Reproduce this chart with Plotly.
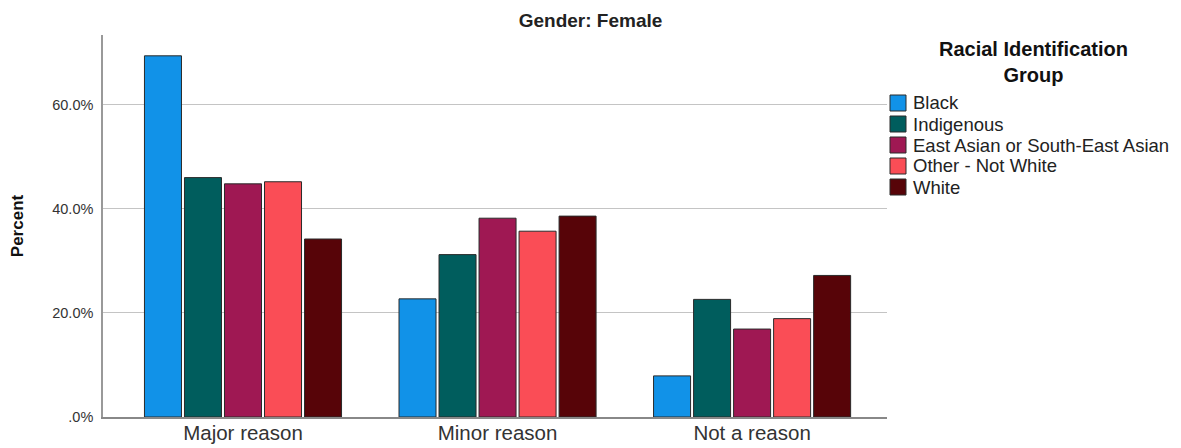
import plotly.graph_objects as go

categories = ["Major reason", "Minor reason", "Not a reason"]
groups = ["Black", "Indigenous", "East Asian or South-East Asian", "Other - Not White", "White"]
black = [69.4, 22.7, 7.9]
indigenous = [46.0, 31.2, 22.6]
east_asian = [44.8, 38.2, 16.9]
other_not_white = [45.2, 35.7, 18.9]
white = [34.2, 38.6, 27.2]
colors = ["#1192E8", "#005D5D", "#9F1853", "#FA4D56", "#570408"]
tick_vals = [0, 20, 40, 60]
tick_text = [".0%", "20.0%", "40.0%", "60.0%"]
legend_title = "Racial Identification<br>Group"

series = [black, indigenous, east_asian, other_not_white, white]
FONT = "Arial, Liberation Sans, sans-serif"

W, H = 1181, 448
ML, MR, MT, MB = 103, 294, 35, 31
PW, PH = W - ML - MR, H - MT - MB


def px_x(p):
    return (p - ML) / PW


def px_y(p):
    return (H - MB - p) / PH


fig = go.Figure()
for name, vals, col in zip(groups, series, colors):
    fig.add_trace(go.Bar(
        x=categories, y=vals, name=name, showlegend=False,
        marker=dict(color=col, line=dict(color="#2a2a2a", width=1)),
    ))

# legend (drawn as layout items so its spacing matches the original)
shapes = []
annotations = []
for i, (name, col) in enumerate(zip(groups, colors)):
    cy = 103 + 21 * i
    shapes.append(dict(type="rect", xref="paper", yref="paper",
                       x0=px_x(890), x1=px_x(906), y0=px_y(cy + 8), y1=px_y(cy - 8),
                       fillcolor=col, line=dict(color="#2a2a2a", width=1)))
    annotations.append(dict(text=name, xref="paper", yref="paper",
                            x=px_x(911), y=px_y(cy), xanchor="left", yanchor="middle",
                            showarrow=False, font=dict(size=18.5, color="#222")))
annotations.append(dict(text="<b>" + legend_title + "</b>", xref="paper", yref="paper",
                        x=px_x(1033), y=px_y(62), xanchor="center", yanchor="middle",
                        align="center", showarrow=False, font=dict(size=20, color="#111")))

fig.update_layout(
    width=W, height=H,
    margin=dict(l=ML, r=MR, t=MT, b=MB, autoexpand=False),
    paper_bgcolor="white", plot_bgcolor="white",
    barmode="group", bargap=0.214, bargroupgap=0.075,
    font=dict(family=FONT, color="#222"),
    title=dict(text="<b>Gender: Female</b>", x=0.5, xanchor="center",
               y=1 - 20 / H, yanchor="middle", yref="container",
               font=dict(size=19, color="#222")),
    shapes=shapes, annotations=annotations,
    showlegend=False,
)
fig.update_xaxes(
    range=[-0.55, 2.53], showgrid=False, showline=True, linecolor="#888", linewidth=1.5,
    ticks="", tickfont=dict(size=20.5, color="#333"), ticklabelstandoff=-3, fixedrange=True,
)
fig.update_yaxes(
    range=[0, 73.4], tickvals=tick_vals, ticktext=tick_text,
    showgrid=True, gridcolor="#c4c4c4", gridwidth=1,
    showline=True, linecolor="#999", linewidth=1.5, zeroline=False,
    ticks="", tickfont=dict(size=14.5, color="#333"), ticklabelstandoff=5,
    title=dict(text="<b>Percent</b>", font=dict(size=17, color="#111"), standoff=24),
)

fig.write_html("out.html", config={"displayModeBar": False},
               post_script="document.body.style.margin='0';")
